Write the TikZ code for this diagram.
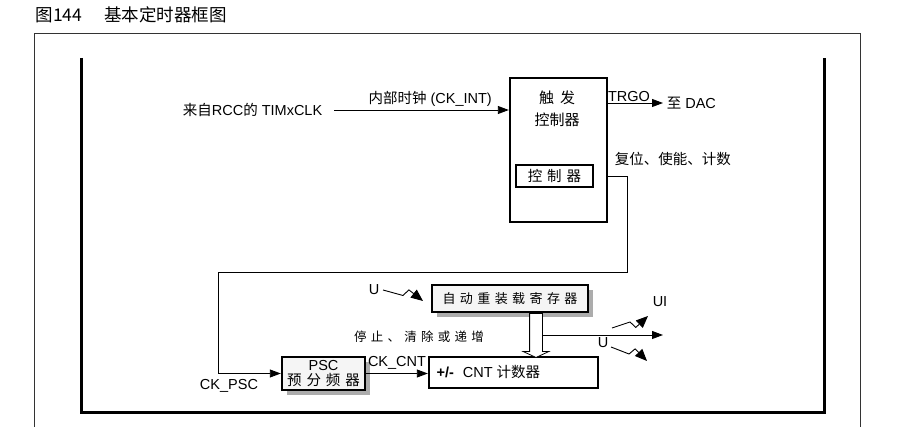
\documentclass[tikz,border=0pt]{standalone}
\usepackage{fontspec}
\setmainfont{Liberation Sans}
\newfontfamily\zh{Noto Sans CJK SC}
\newfontfamily\zhs{Noto Sans CJK SC}[LetterSpace=34]
\usetikzlibrary{positioning, arrows.meta, shadows, shapes.arrows, calc}

\tikzset{
  tip/.style={-{Triangle[length=11pt,width=8pt]}},
  blk/.style={draw, line width=2.4pt, inner sep=0pt},
  shd/.style={blk, fill=gray!8, drop shadow={shadow xshift=5pt, shadow yshift=-5pt, fill=gray!65, opacity=1}},
  lbl/.style={font=\fontsize{14.5}{16}\selectfont},
  flash/.style={-{Triangle[length=12pt,width=10pt]}, to path={-- ($(\tikztostart)!0.5!(\tikztotarget)$)
      -- ($(\tikztostart)!0.6!(\tikztotarget)!7pt!#1:(\tikztotarget)$) -- (\tikztotarget)}}
}

\begin{document}
\begin{tikzpicture}[x=1pt, y=-1pt, line width=0.9pt]
\useasboundingbox (0,0) rectangle (897,427);

% frame
\node[anchor=west, font=\fontsize{17.5}{19}\selectfont] (title) at (32,15) {\zh 图144\hspace{22pt}基本定时器框图};
\draw[line width=0.8pt, gray!40!black] (34.5,427) -- (34.5,33) -- (860,33) -- (860,427);
\draw[line width=3pt] (81,58) -- (81,413) -- (824,413) -- (824,58);

% trigger controller
\node[blk, minimum width=97pt, minimum height=144pt] (trig) at (558.5,150) {};
\node[font=\fontsize{15}{22}\selectfont\zh, align=center] (trigtxt) at (557,109) {触\hspace{6pt}发\\控制器};
\node[blk, line width=2pt, minimum width=77pt, minimum height=22pt,
      font=\fontsize{14.5}{16}\selectfont\zhs] (ctrl) at (554.5,176) {控制器};

\node[lbl, anchor=east] (rcc) at (326,110) {{\zh 来自}RCC{\zh 的} TIMxCLK};
\draw[tip] ([xshift=8pt]rcc.east) -- (trig.west |- rcc.east)
  node[pos=0.55, above, lbl] {{\zh 内部时钟} (CK\_INT)};

\node[lbl, anchor=west] (dac) at (663,103) {{\zh 至} DAC};
\draw[tip] (trig.east |- dac.west) -- (dac.west)
  node[pos=0.38, above, lbl, inner sep=1pt] {TRGO};
\node[lbl, anchor=west] (rst) at (611,159) {\zh 复位、使能、计数};

% prescaler and counter
\node[shd, minimum width=83pt, minimum height=33pt, align=center,
      font=\fontsize{14.5}{15}\selectfont] (psc) at (323.5,373.5) {PSC\\{\zhs 预分频器}};
\node[blk, minimum width=169pt, minimum height=31pt] (cnt) at (513.5,372.5) {};
\node[lbl, right=5pt of cnt.west] (cnttxt) {\textbf{+/-}\hspace{9pt}CNT {\zh 计数器}};

\coordinate (c1) at (627,272);
\coordinate (c2) at (218,272);
\draw[tip] (trig.east |- ctrl) -| (c1) -- (c2) |- (psc.west);
\node[lbl] (ckpsc) at (229,386) {CK\_PSC};

\draw[tip] (psc.east) -- (cnt.west |- psc.east)
  node[midway, above=3pt, lbl, inner sep=1pt] {CK\_CNT};

% auto-reload register
\node[shd, minimum width=156pt, minimum height=27pt, font=\fontsize{13}{15}\selectfont] (arl) at (510,298.5) {\zhs 自动重装载寄存器};
\node[single arrow, draw, fill=white, line width=0.8pt, rotate=-90, minimum height=44pt,
      inner xsep=0pt, inner ysep=6pt, single arrow head extend=6.5pt,
      single arrow tip angle=130] (load) at (536,334) {};
\node[font=\fontsize{12.5}{14}\selectfont] (stop) at (419,337) {\zhs 停止、清除或递增};

\coordinate (brk) at (542,335);
\coordinate (outr) at (663,335);
\draw[tip] (brk) -- (outr);

% update events
\node[lbl] (u1) at (374,290) {U};
\coordinate (u1t) at (423,301);
\draw[flash=90] (u1.east) to (u1t);

\node[lbl] (ui) at (660,302) {UI};
\coordinate (uis) at (612,328);
\coordinate (uit) at (648,316);
\draw[flash=-90] (uis) to (uit);

\node[lbl] (u2) at (603,343) {U};
\coordinate (u2s) at (611,347);
\coordinate (u2t) at (647,361);
\draw[flash=90] (u2s) to (u2t);
\end{tikzpicture}
\end{document}
